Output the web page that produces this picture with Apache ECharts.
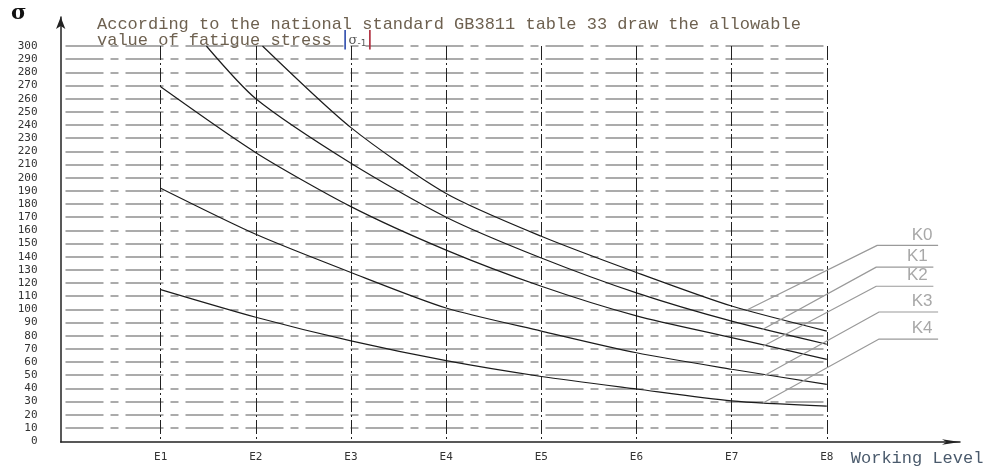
<!DOCTYPE html>
<html>
<head>
<meta charset="utf-8">
<script src="https://cdn.jsdelivr.net/npm/echarts@6/dist/echarts.min.js"></script>
<style>
  html, body { margin: 0; padding: 0; background: #fff; }
  #main { width: 990px; height: 467px; }
</style>
</head>
<body>
<div id="main"></div>
<script>
// working levels on the x axis (E1 sits at 1, E8 at 8)
const levels = ['E1', 'E2', 'E3', 'E4', 'E5', 'E6', 'E7', 'E8']
const levelX = [1, 2, 3, 4, 5, 6, 7, 8]

// allowable fatigue stress curves
// K0 and K1 start where they cross the 300 line
const k0X = [2.07, 3, 4, 5, 6, 7, 8]
const k0Y = [300, 238, 188, 155.5, 128, 102.5, 83.5]
const k1X = [1.48, 2, 3, 4, 5, 6, 7, 8]
const k1Y = [300, 260, 211, 170, 139, 112.5, 91, 73.5]
const k2Y = [269, 219, 178, 145, 117.5, 95, 78.5, 62]
const k3Y = [192, 157, 128, 101, 83.5, 67, 54.5, 43]
const k4Y = [115, 94, 76, 61, 49, 39.5, 30.5, 26.5]

// leader labels: point on curve -> start of underline -> end of underline
const kNames = ['K0', 'K1', 'K2', 'K3', 'K4']
const anchorX = [7.16, 7.32, 7.33, 7.35, 7.33]
const anchorY = [100, 85, 72.5, 50.5, 29.5]
const tagStartX = [8.53, 8.52, 8.52, 8.55, 8.55]
const tagEndX = [9.17, 9.12, 9.12, 9.17, 9.17]
const tagY = [149, 132.5, 118, 98.5, 78]

const zip = (xs, ys) => xs.map((x, i) => [x, ys[i]])

const curve = (name, data) => ({
    name: name,
    type: 'line',
    xAxisIndex: 0,
    yAxisIndex: 0,
    data: data,
    symbol: 'none',
    smooth: 0.25,
    lineStyle: { color: '#1c1c1c', width: 1.2 },
    z: 3
})

const tag = (i) => ({
    name: kNames[i] + ' label',
    type: 'line',
    xAxisIndex: 1,
    yAxisIndex: 1,
    symbol: 'circle',
    symbolSize: 0,
    showSymbol: true,
    lineStyle: { color: '#9a9a9a', width: 1.2 },
    data: [
        [anchorX[i], anchorY[i]],
        [tagStartX[i], tagY[i]],
        {
            value: [tagEndX[i], tagY[i]],
            label: {
                show: true,
                formatter: kNames[i],
                position: 'top',
                distance: 2,
                offset: [-16, 0],
                fontFamily: 'Liberation Sans',
                fontSize: 17,
                color: '#a8a8a8'
            }
        }
    ],
    z: 4
})

var myChart = echarts.init(document.getElementById('main'))

var option = {
    animation: false,
    backgroundColor: '#fff',
    title: {
        left: 92,
        top: 12,
        text: 'According to the national standard GB3811 table 33 draw the allowable\nvalue of fatigue stress {bl||}{s|σ}{sub|-1}{br||}',
        textStyle: {
            fontFamily: 'Liberation Mono',
            fontSize: 17,
            fontWeight: 'normal',
            color: '#6e6150',
            lineHeight: 15.5,
            rich: {
                bl: { color: '#3552b0', fontSize: 20, lineHeight: 15.5, fontFamily: 'DejaVu Sans' },
                s: { color: '#555', fontSize: 13, lineHeight: 15.5, fontFamily: 'DejaVu Serif' },
                sub: { color: '#555', fontSize: 9, lineHeight: 15.5, verticalAlign: 'bottom', fontFamily: 'DejaVu Sans' },
                br: { color: '#b03040', fontSize: 20, lineHeight: 15.5, fontFamily: 'DejaVu Sans' }
            }
        }
    },
    graphic: [{
        type: 'text',
        left: 11,
        top: 3,
        style: { text: 'σ', font: 'bold 21px "DejaVu Serif"', fill: '#111' }
    }],
    grid: [
        // plotting grid
        { left: 65.5, top: 46, width: 761.3, bottom: 25 },
        // frame with the arrowed axes and the leader labels
        { left: 60.7, top: 17, width: 899.3, bottom: 25 }
    ],
    xAxis: [{
        gridIndex: 0,
        type: 'value',
        min: 0,
        max: 8,
        interval: 1,
        axisLine: { show: false },
        axisTick: { show: false },
        axisLabel: {
            formatter: (v) => v ? levels[levelX.indexOf(v)] : '',
            margin: 11,
            fontFamily: 'DejaVu Sans Mono',
            fontSize: 11,
            color: '#333'
        },
        splitLine: {
            show: true,
            showMinLine: false,
            lineStyle: { color: '#222', width: 1, type: [14, 3, 2, 3] }
        },
        name: 'Working Level',
        nameLocation: 'end',
        nameGap: 24,
        nameTextStyle: {
            fontFamily: 'Liberation Mono',
            fontSize: 17,
            color: '#4a5a6c',
            align: 'left',
            verticalAlign: 'top',
            padding: [9, 0, 0, 0]
        }
    }, {
        gridIndex: 1,
        type: 'value',
        min: -0.05,
        max: 9.4,
        axisLine: {
            show: true,
            symbol: ['none', 'arrow'],
            symbolSize: [4, 18],
            lineStyle: { color: '#222', width: 1.5 }
        },
        axisTick: { show: false },
        axisLabel: { show: false },
        splitLine: { show: false }
    }],
    yAxis: [{
        gridIndex: 0,
        type: 'value',
        min: 0,
        max: 300,
        interval: 10,
        axisLine: { show: false },
        axisTick: { show: false },
        axisLabel: {
            margin: 28,
            fontFamily: 'DejaVu Sans Mono',
            fontSize: 11,
            color: '#333'
        },
        splitLine: {
            show: true,
            showMinLine: false,
            lineStyle: { color: '#909090', width: 1.5, type: [38, 7, 8, 7] }
        }
    }, {
        gridIndex: 1,
        type: 'value',
        min: 0,
        max: 322,
        axisLine: {
            show: true,
            onZero: false,
            symbol: ['none', 'arrow'],
            symbolSize: [7, 12],
            lineStyle: { color: '#222', width: 1.5 }
        },
        axisTick: { show: false },
        axisLabel: { show: false },
        splitLine: { show: false }
    }],
    series: [
        curve('K0', zip(k0X, k0Y)),
        curve('K1', zip(k1X, k1Y)),
        curve('K2', zip(levelX, k2Y)),
        curve('K3', zip(levelX, k3Y)),
        curve('K4', zip(levelX, k4Y)),
        ...kNames.map((n, i) => tag(i))
    ]
}

myChart.setOption(option)
</script>
</body>
</html>
